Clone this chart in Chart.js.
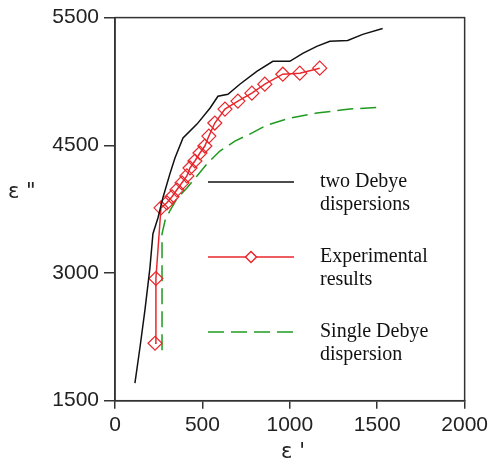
<!DOCTYPE html>
<html lang="en">
<head>
<meta charset="UTF-8">
<title>Debye dispersion fit</title>
<script src="https://cdn.jsdelivr.net/npm/chart.js"></script>
<style>
  html, body { margin: 0; padding: 0; background: #fff; }
  #wrap { width: 492px; height: 466px; }
</style>
</head>
<body>
<div id="wrap"><canvas id="chart" width="492" height="466"></canvas></div>
<script>
// two Debye dispersions (model)
const twoDebyeX = [114, 143, 171, 200, 217, 246, 274, 314, 343, 389, 469, 543, 589, 646, 714, 811, 903, 1000, 1074, 1154, 1229, 1331, 1417, 1531];
const twoDebyeY = [1684, 2058, 2443, 2890, 3244, 3410, 3619, 3868, 4035, 4243, 4388, 4554, 4679, 4700, 4804, 4939, 5043, 5043, 5127, 5200, 5252, 5262, 5325, 5387];

// experimental results
const expX = [229, 234, 263, 297, 326, 354, 383, 411, 429, 457, 486, 514, 537, 571, 629, 703, 783, 857, 960, 1057, 1171];
const expY = [2100, 2776, 3514, 3566, 3629, 3702, 3775, 3847, 3930, 4003, 4086, 4159, 4263, 4399, 4545, 4628, 4711, 4805, 4909, 4920, 4972];

// single Debye dispersion (model)
const singleX = [269, 269, 269, 269, 286, 314, 354, 411, 469, 526, 600, 686, 771, 869, 1000, 1154, 1343, 1526];
const singleY = [2027, 2547, 3067, 3242, 3379, 3483, 3608, 3722, 3847, 3972, 4107, 4211, 4284, 4378, 4451, 4503, 4545, 4565];

const yTickLabels = ['1500', '3000', '4500', '5500'];
const legendLines = [
  ['two Debye', 'dispersions'],
  ['Experimental', 'results'],
  ['Single Debye', 'dispersion']
];

const AXIS = '#333';
const tickFont = { family: "'Liberation Sans', Arial, sans-serif", size: 21 };

function pts(xs, ys) { return xs.map((x, i) => ({ x: x, y: ys[i] })); }

// frame, axis titles and the side legend
const extras = {
  id: 'extras',
  afterDraw(chart) {
    const c = chart.ctx, a = chart.chartArea;
    c.save();
    c.strokeStyle = AXIS;
    c.lineWidth = 1.5;
    c.strokeRect(a.left, a.top, a.right - a.left, a.bottom - a.top);

    c.fillStyle = '#222';
    c.font = "21px 'DejaVu Sans', sans-serif";
    c.textBaseline = 'middle';
    c.textAlign = 'left';
    c.fillText('ε "', 8, 193);
    c.textAlign = 'center';
    c.fillText("ε '", 293, 453);

    // legend
    const sx0 = 208, sx1 = 294, tx = 320;
    const rows = [182, 257, 332];
    chart.data.datasets.forEach((ds, i) => {
      const y = rows[i];
      c.strokeStyle = ds.borderColor;
      c.lineWidth = ds.borderWidth;
      c.setLineDash(ds.borderDash || []);
      c.beginPath(); c.moveTo(sx0, y); c.lineTo(sx1, y); c.stroke();
      c.setLineDash([]);
      if (ds.pointRadius > 0) {
        const r = 5.5, mx = (sx0 + sx1) / 2;
        c.fillStyle = '#fff';
        c.beginPath();
        c.moveTo(mx, y - r); c.lineTo(mx + r, y); c.lineTo(mx, y + r); c.lineTo(mx - r, y); c.closePath();
        c.fill(); c.stroke();
      }
      c.fillStyle = '#111';
      c.font = "20px 'Liberation Serif', serif";
      c.textAlign = 'left';
      c.fillText(legendLines[i][0], tx, y);
      c.fillText(legendLines[i][1], tx, y + 23);
    });
    c.restore();
  }
};

new Chart(document.getElementById('chart'), {
  type: 'scatter',
  data: {
    datasets: [
      { data: pts(twoDebyeX, twoDebyeY), showLine: true, borderColor: '#111', borderWidth: 1.5, pointRadius: 0, tension: 0 },
      { data: pts(expX, expY), showLine: true, borderColor: '#e8282c', borderWidth: 1.5, pointStyle: 'rectRot', pointRadius: 7, pointBackgroundColor: 'rgba(255,255,255,0)', pointBorderColor: '#e8282c', pointBorderWidth: 1.2, tension: 0 },
      { data: pts(singleX, singleY), showLine: true, borderColor: '#1f9a1f', borderWidth: 1.5, borderDash: [16, 7], pointRadius: 0, tension: 0 }
    ]
  },
  options: {
    responsive: false,
    animation: false,
    layout: { padding: { left: 0, right: 27, top: 16, bottom: 0 } },
    plugins: { legend: { display: false }, tooltip: { enabled: false } },
    scales: {
      x: {
        type: 'linear', min: 0, max: 2000,
        ticks: { stepSize: 500, color: '#222', font: tickFont, padding: 4, maxRotation: 0, callback: v => String(v) },
        grid: { drawOnChartArea: false, drawTicks: true, tickLength: 8, color: AXIS, lineWidth: 1.5 },
        border: { color: AXIS, width: 1.5 },
        afterFit(s) { s.height = 65.3; }
      },
      y: {
        type: 'linear', min: 1500, max: 5500,
        afterBuildTicks(s) {
          s.ticks = yTickLabels.map((t, i) => ({ value: 1500 + i * 4000 / (yTickLabels.length - 1) }));
        },
        ticks: { color: '#222', font: tickFont, padding: 5, callback: (v, i) => yTickLabels[i] },
        grid: { drawOnChartArea: false, drawTicks: true, tickLength: 11, color: AXIS, lineWidth: 1.5 },
        border: { color: AXIS, width: 1.5 },
        afterFit(s) { s.width = 115; }
      }
    }
  },
  plugins: [extras]
});
</script>
</body>
</html>
